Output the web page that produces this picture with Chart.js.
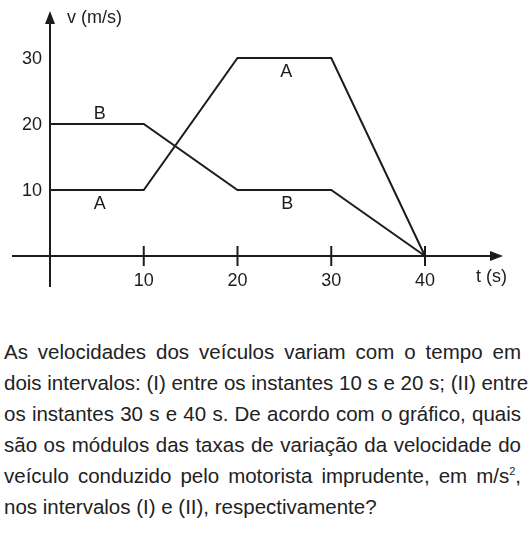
<!DOCTYPE html>
<html>
<head>
<meta charset="utf-8">
<script src="https://cdn.jsdelivr.net/npm/chart.js@4"></script>
<style>
  html, body { margin: 0; padding: 0; background: #fff; }
  body { width: 529px; height: 544px; overflow: hidden; font-family: "Liberation Sans", Arial, sans-serif; }
  .chart-box { position: relative; width: 529px; height: 300px; }
  .texto { position: absolute; left: 4px; top: 336px; width: 517px; color: #222; font-size: 20.5px; }
  .texto div { height: 31px; line-height: 31px; text-align: justify; text-align-last: justify; white-space: nowrap; }
  .texto div.ultima { text-align-last: left; }
  sup { font-size: 11px; vertical-align: 8px; line-height: 0; }
</style>
</head>
<body>
<div class="chart-box"><canvas id="vtChart"></canvas></div>
<div class="texto">
  <div>As velocidades dos veículos variam com o tempo em</div>
  <div>dois intervalos: (I) entre os instantes 10 s e 20 s; (II) entre</div>
  <div>os instantes 30 s e 40 s. De acordo com o gráfico, quais</div>
  <div>são os módulos das taxas de variação da velocidade do</div>
  <div>veículo conduzido pelo motorista imprudente, em m/s<sup>2</sup>,</div>
  <div class="ultima">nos intervalos (I) e (II), respectivamente?</div>
</div>
<script>
// dados do grafico v x t
const tempos = [0, 10, 20, 30, 40]
const velA = [10, 10, 30, 30, 0]
const velB = [20, 20, 10, 10, 0]
const xTicks = [10, 20, 30, 40]
const yTicks = [10, 20, 30]
const curvaLabels = ['B', 'A', 'A', 'B']
const curvaT = [5.3, 5.3, 25.2, 25.3]
const curvaV = [20, 10, 30, 10]

const INK = '#1c1c1c'
const FONT = '18px "Liberation Sans", Arial, sans-serif'

const toPoints = vals => tempos.map((t, i) => ({ x: t, y: vals[i] }))

// eixos com setas, ticks e rotulos desenhados a partir das escalas
const eixosPlugin = {
  id: 'eixos',
  afterDatasetsDraw(chart) {
    const ctx = chart.ctx
    const xs = chart.scales.x
    const ys = chart.scales.y
    const x0 = xs.getPixelForValue(0)
    const y0 = ys.getPixelForValue(0)

    ctx.save()
    ctx.strokeStyle = INK
    ctx.fillStyle = INK
    ctx.lineWidth = 2

    // eixo t
    ctx.beginPath()
    ctx.moveTo(x0 - 38, y0)
    ctx.lineTo(492, y0)
    ctx.stroke()
    ctx.beginPath()
    ctx.moveTo(503, y0)
    ctx.lineTo(490, y0 - 5)
    ctx.lineTo(490, y0 + 5)
    ctx.closePath()
    ctx.fill()

    // eixo v
    ctx.beginPath()
    ctx.moveTo(x0, y0 + 31)
    ctx.lineTo(x0, 22)
    ctx.stroke()
    ctx.beginPath()
    ctx.moveTo(x0, 11)
    ctx.lineTo(x0 - 5, 24)
    ctx.lineTo(x0 + 5, 24)
    ctx.closePath()
    ctx.fill()

    ctx.font = FONT
    ctx.textBaseline = 'middle'

    // ticks do eixo t
    ctx.textAlign = 'center'
    xTicks.forEach(t => {
      const px = xs.getPixelForValue(t)
      ctx.beginPath()
      ctx.moveTo(px, y0 - 10)
      ctx.lineTo(px, y0 + 10)
      ctx.stroke()
      ctx.fillText(String(t), px, y0 + 25)
    })

    // rotulos do eixo v
    ctx.textAlign = 'right'
    yTicks.forEach(v => {
      ctx.fillText(String(v), x0 - 8, ys.getPixelForValue(v) + 1)
    })

    ctx.textAlign = 'left'
    ctx.fillText('v (m/s)', x0 + 17, 18)
    ctx.fillText('t (s)', 476, y0 + 21)

    // letras A / B junto das curvas
    ctx.textAlign = 'center'
    curvaLabels.forEach((txt, i) => {
      const px = xs.getPixelForValue(curvaT[i])
      const py = ys.getPixelForValue(curvaV[i])
      const dy = i === 0 ? -10 : 14
      ctx.fillText(txt, px, py + dy)
    })
    ctx.restore()
  }
}

new Chart(document.getElementById('vtChart'), {
  type: 'line',
  data: {
    datasets: [
      { label: 'A', data: toPoints(velA), borderColor: INK, borderWidth: 2, pointRadius: 0, tension: 0, clip: false },
      { label: 'B', data: toPoints(velB), borderColor: INK, borderWidth: 2, pointRadius: 0, tension: 0, clip: false }
    ]
  },
  options: {
    responsive: true,
    maintainAspectRatio: false,
    animation: false,
    layout: { padding: { left: 50, right: 104, top: 58, bottom: 44 } },
    scales: {
      x: { type: 'linear', min: 0, max: 40, display: false },
      y: { type: 'linear', min: 0, max: 30, display: false }
    },
    plugins: {
      legend: { display: false },
      tooltip: { enabled: false }
    }
  },
  plugins: [eixosPlugin]
})
</script>
</body>
</html>
